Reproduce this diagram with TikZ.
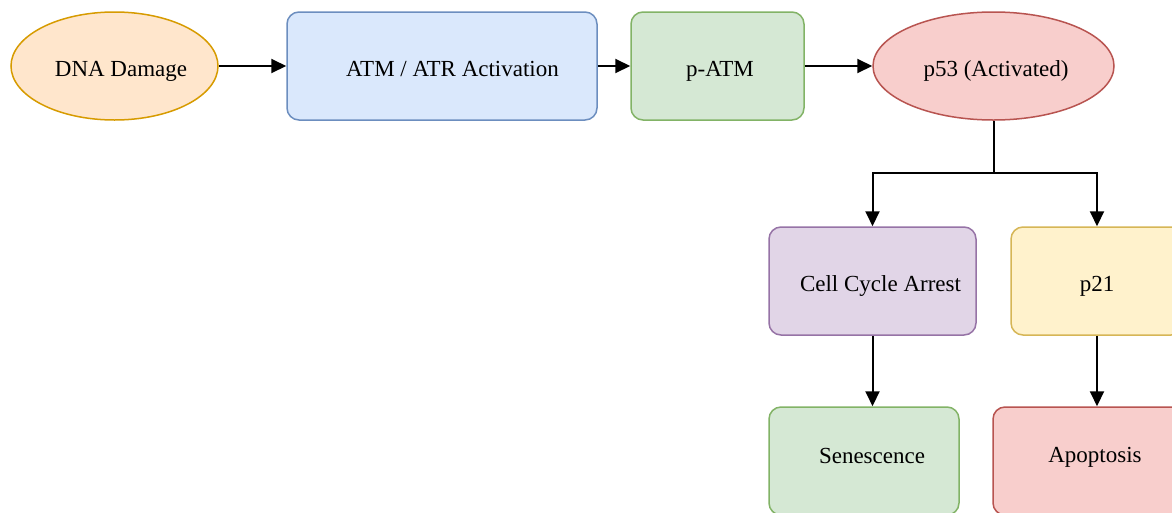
\documentclass[tikz,border=0pt]{standalone}
\usepackage{fontspec}
\setmainfont{Liberation Serif}
\usetikzlibrary{arrows.meta,shapes.geometric}
\definecolor{orF}{HTML}{FFE6CC}\definecolor{orS}{HTML}{D79B00}
\definecolor{blF}{HTML}{DAE8FC}\definecolor{blS}{HTML}{6C8EBF}
\definecolor{grF}{HTML}{D5E8D4}\definecolor{grS}{HTML}{82B366}
\definecolor{rdF}{HTML}{F8CECC}\definecolor{rdS}{HTML}{B85450}
\definecolor{puF}{HTML}{E1D5E7}\definecolor{puS}{HTML}{9673A6}
\definecolor{yeF}{HTML}{FFF2CC}\definecolor{yeS}{HTML}{D6B656}
\newcommand{\lbl}[3]{\hspace*{#1}\raisebox{#2}{#3}}
\tikzset{
  base/.style={line width=1.5pt, font=\fontsize{23}{27}\selectfont, inner sep=0pt, align=center, text height=0pt, text depth=0pt},
  boxnode/.style={base, rectangle, rounded corners=12pt, minimum height=108pt},
  ellnode/.style={base, ellipse, minimum height=108pt},
  conn/.style={line width=2pt, -{Triangle[length=15pt,width=14pt]}},
}
\begin{document}
\begin{tikzpicture}[x=1pt,y=-1pt]
\clip (0,0) rectangle (1172,512);
\fill[white] (0,0) rectangle (1172,512);
\node[ellnode, fill=orF, draw=orS, minimum width=207pt] (dna) at (114.5,66) {\lbl{13pt}{-10.5pt}{DNA Damage}};
\node[boxnode, fill=blF, draw=blS, minimum width=310pt] (atm) at (442,66) {\lbl{21pt}{-10.5pt}{ATM / ATR Activation}};
\node[boxnode, fill=grF, draw=grS, minimum width=173pt] (patm) at (717.5,66) {\lbl{5pt}{-10.5pt}{p-ATM}};
\node[ellnode, fill=rdF, draw=rdS, minimum width=241pt] (p53) at (993.5,66) {\lbl{5pt}{-10.5pt}{p53 (Activated)}};
\node[boxnode, fill=puF, draw=puS, minimum width=207pt] (cca) at (872.5,281) {\lbl{16pt}{-10.5pt}{Cell Cycle Arrest}};
\node[boxnode, fill=yeF, draw=yeS, minimum width=172pt] (p21) at (1097,281) {\lbl{0pt}{-10.5pt}{p21}};
\node[boxnode, fill=grF, draw=grS, minimum width=190pt] (sen) at (864,461) {\lbl{16pt}{-2pt}{Senescence}};
\node[boxnode, fill=rdF, draw=rdS, minimum width=208pt] (apo) at (1097,461) {\lbl{-4pt}{-1.5pt}{Apoptosis}};
\coordinate (split) at (993.5,173);
\draw[conn] (dna) -- (atm);
\draw[conn] (atm) -- (patm);
\draw[conn] (patm) -- (p53);
\draw[conn] (p53.south) -- (split) -| (cca.north);
\draw[conn] (split) -| (p21.north);
\draw[conn] (cca.south) -- (cca.south |- sen.north);
\draw[conn] (p21.south) -- (apo.north);
\end{tikzpicture}
\end{document}
